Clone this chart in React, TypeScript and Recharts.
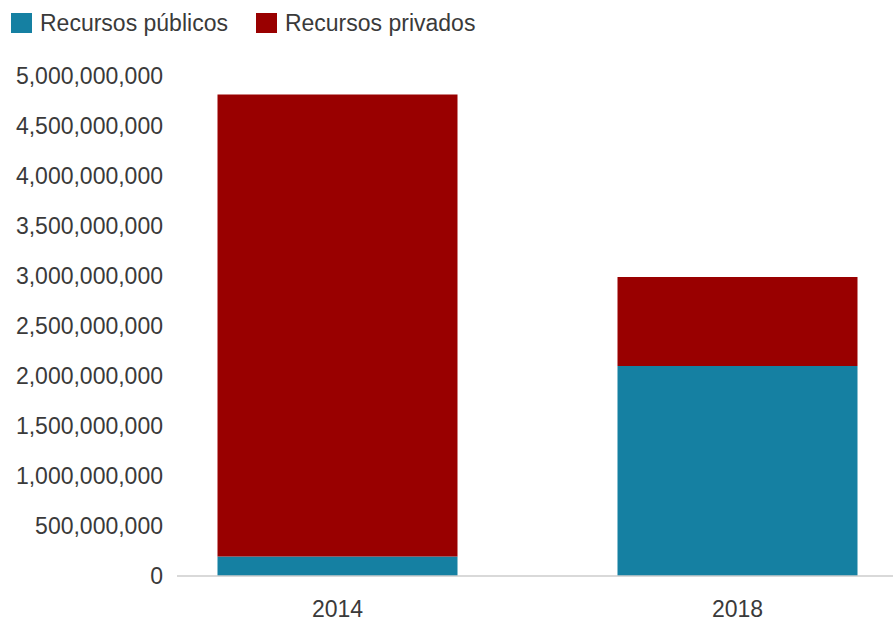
import { BarChart, Bar, XAxis, YAxis } from 'recharts';

const YEARS = ['2014', '2018'];
const PUBLIC_FUNDS = [195000000, 2100000000];
const PRIVATE_FUNDS = [4620000000, 890000000];
const Y_TICKS = [0, 500000000, 1000000000, 1500000000, 2000000000, 2500000000, 3000000000, 3500000000, 4000000000, 4500000000, 5000000000];

const C = {
  publico: '#1580a2',
  privado: '#990000',
  text: '#3a3a3a',
  axis: '#cccccc',
};
const FONT = '"Liberation Sans", Arial, sans-serif';

const data = YEARS.map((year, i) => ({
  year,
  publico: PUBLIC_FUNDS[i],
  privado: PRIVATE_FUNDS[i],
}));

const LEGEND = [
  { name: 'Recursos públicos', color: C.publico },
  { name: 'Recursos privados', color: C.privado },
];

function formatNumber(v: number): string {
  return v.toLocaleString('en-US');
}

export default function App() {
  return (
    <div style={{ position: 'absolute', top: 0, left: 0, width: 893, height: 621, overflow: 'hidden', background: '#fff', fontFamily: FONT }}>
      {/* Legend */}
      <div style={{ position: 'absolute', top: 9, left: 11, display: 'flex', alignItems: 'center', zIndex: 1 }}>
        {LEGEND.map((item, i) => (
          <div key={item.name} style={{ display: 'flex', alignItems: 'center', marginRight: i === 0 ? 28 : 0 }}>
            <div style={{ width: 21, height: 20, background: item.color, marginRight: 8 }} />
            <span style={{ fontSize: 23, color: C.text, lineHeight: '28px' }}>{item.name}</span>
          </div>
        ))}
      </div>

      <BarChart
        width={893}
        height={621}
        data={data}
        margin={{ top: 76, right: 0, bottom: 0, left: 0 }}
      >
        <XAxis
          dataKey="year"
          height={45}
          padding={{ left: -39.5, right: -44.5 }}
          axisLine={{ stroke: C.axis, strokeWidth: 1.5 }}
          tickLine={false}
          tickSize={0}
          tickMargin={25}
          tick={{ fill: C.text, fontSize: 23, fontFamily: FONT }}
        />
        <YAxis
          width={177}
          domain={[0, 5000000000]}
          ticks={Y_TICKS}
          tickFormatter={formatNumber}
          axisLine={false}
          tickLine={false}
          tickSize={0}
          tickMargin={14}
          interval={0}
          tick={{ fill: C.text, fontSize: 23, fontFamily: FONT }}
        />
        <Bar dataKey="publico" name="Recursos públicos" stackId="a" fill={C.publico} barSize={240} isAnimationActive={false} />
        <Bar dataKey="privado" name="Recursos privados" stackId="a" fill={C.privado} barSize={240} isAnimationActive={false} />
      </BarChart>
    </div>
  );
}
